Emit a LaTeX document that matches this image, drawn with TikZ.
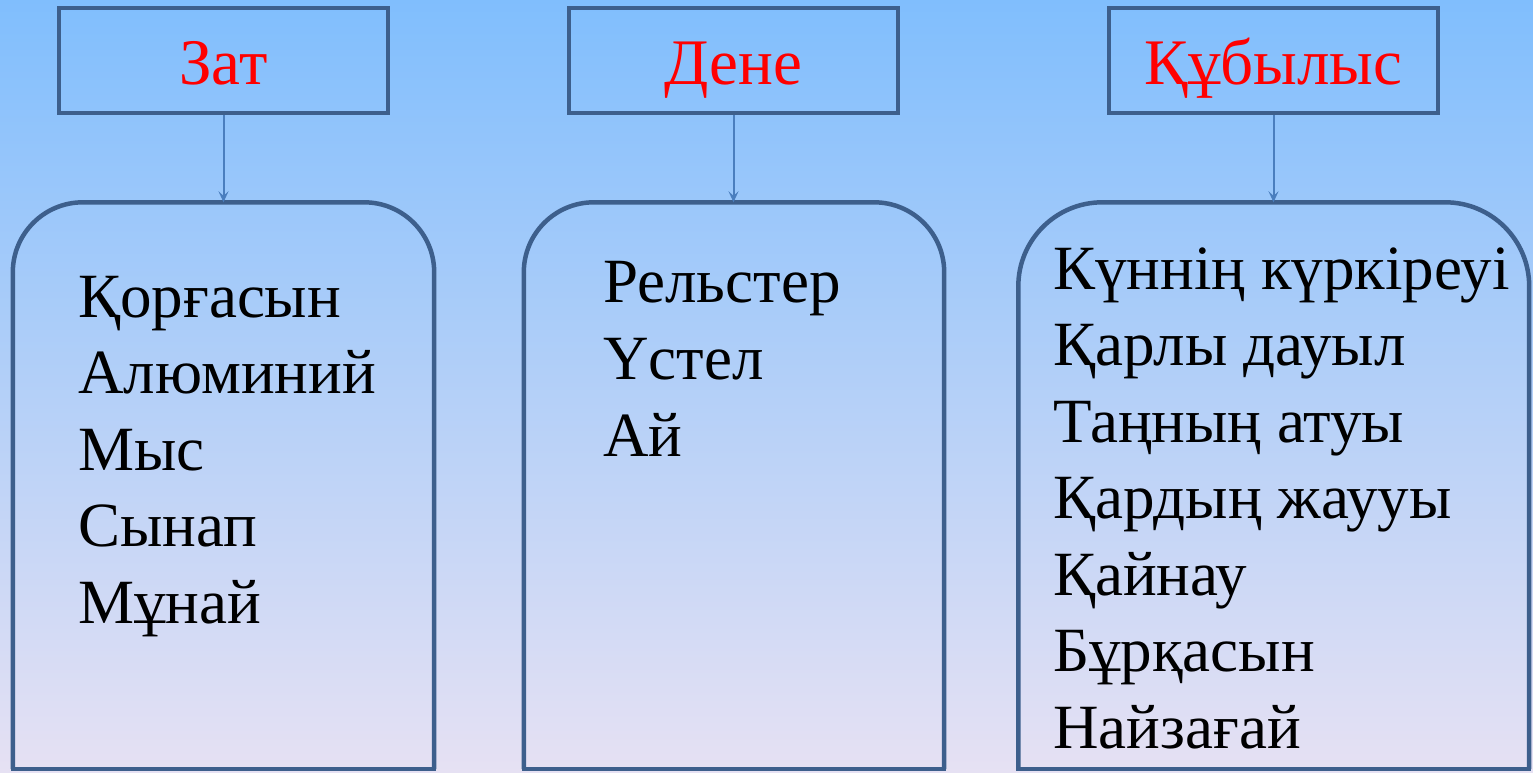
\documentclass[tikz,border=0pt]{standalone}
\usepackage{fontspec}
\setmainfont{Liberation Serif}
\usetikzlibrary{arrows.meta}
\definecolor{bgtop}{HTML}{80BEFD}
\definecolor{bgbot}{HTML}{E6E1F3}
\definecolor{framec}{HTML}{3D5F8C}
\definecolor{arrowc}{HTML}{4A7EBE}
\tikzset{
  titlebox/.style={draw=framec, line width=4.5pt, minimum width=329pt, minimum height=104.7pt,
    inner sep=0pt, text=red, font=\fontsize{65}{65}\selectfont, text height=49pt, text depth=0pt},
  bodyarea/.style={draw=none, inner sep=0pt, minimum height=566.5pt},
  bodyframe/.style={draw=framec, line width=4.5pt},
  conn/.style={draw=arrowc, line width=2pt, -{Stealth[length=11pt,width=10pt,inset=4.5pt]}},
  item/.style={anchor=base west, inner sep=0pt, font=\fontsize{63}{63}\selectfont, text=black}
}
\begin{document}
\begin{tikzpicture}[x=1pt,y=-1pt]
\useasboundingbox (0,0) rectangle (1533,772);
\shade[top color=bgtop,bottom color=bgbot] (0,0) rectangle (1533,772);

% title boxes
\node[titlebox] (t1) at (223.5,60.4) {Зат};
\node[titlebox] (t2) at (733.5,60.4) {Дене};
\node[titlebox] (t3) at (1273.5,60.4) {Құбылыс};

% body areas
\node[bodyarea, minimum width=421pt] (b1) at (223.5,485.75) {};
\node[bodyarea, minimum width=420pt] (b2) at (734,485.75) {};
\node[bodyarea, minimum width=510.5pt] (b3) at (1273.75,485.75) {};

\foreach \b/\r in {b1/70pt,b2/70pt,b3/84pt}{
  \draw[bodyframe, rounded corners=\r] (\b.south west) -- (\b.north west) -- (\b.north east) -- (\b.south east);
  \draw[bodyframe, line cap=rect] (\b.south west) -- (\b.south east);
}

% connectors
\draw[conn] (t1.south) -- (t1.south |- b1.north);
\draw[conn] (t2.south) -- (t2.south |- b2.north);
\draw[conn] (t3.south) -- (t3.south |- b3.north);

% items
\foreach \t [count=\i] in {Қорғасын,Алюминий,Мыс,Сынап,Мұнай}
  \node[item] (za\i) at (78,{317+76.5*(\i-1)}) {\t};
\foreach \t [count=\i] in {Рельстер,Үстел,Ай}
  \node[item] (de\i) at (603,{302+77*(\i-1)}) {\t};
\foreach \t [count=\i] in {Күннің күркіреуі,Қарлы дауыл,Таңның атуы,Қардың жаууы,Қайнау,Бұрқасын,Найзағай}
  \node[item] (qu\i) at (1053,{289+76.55*(\i-1)}) {\t};
\end{tikzpicture}
\end{document}
